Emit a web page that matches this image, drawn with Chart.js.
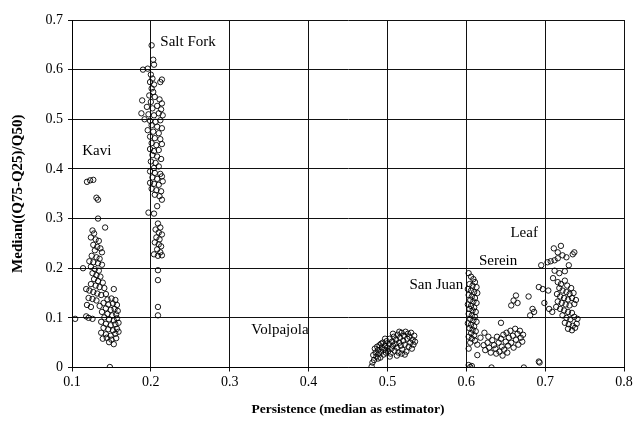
<!doctype html>
<html lang="en">
<head>
  <meta charset="utf-8">
  <title>Persistence vs spread</title>
  <script src="https://cdn.jsdelivr.net/npm/chart.js"></script>
  <style>
    html, body { margin: 0; padding: 0; background: #fff; }
    #wrap { width: 636px; height: 432px; }
  </style>
</head>
<body>
<div id="wrap"><canvas id="myChart" width="636" height="432"></canvas></div>

<script>
// Points per catchment: [persistence, median((Q75-Q25)/Q50)]
const kavi = [
  [0.119,0.374],[0.123,0.377],[0.127,0.378],[0.131,0.342],[0.133,0.338],[0.133,0.300],[0.142,0.282],
  [0.126,0.276],[0.128,0.270],[0.124,0.262],[0.130,0.258],[0.134,0.255],[0.127,0.247],[0.132,0.243],
  [0.136,0.240],[0.129,0.236],[0.138,0.232],[0.125,0.225],[0.131,0.222],[0.135,0.219],[0.122,0.214],
  [0.127,0.212],[0.133,0.210],[0.138,0.207],[0.114,0.200],[0.124,0.203],[0.129,0.198],[0.134,0.195],
  [0.126,0.190],[0.131,0.186],[0.136,0.183],[0.128,0.178],[0.133,0.174],[0.139,0.171],[0.124,0.168],
  [0.130,0.165],[0.135,0.162],[0.141,0.160],[0.118,0.158],[0.122,0.155],[0.153,0.158],[0.127,0.152],
  [0.132,0.149],[0.137,0.146],[0.143,0.148],[0.121,0.140],[0.126,0.138],[0.131,0.135],[0.145,0.137],
  [0.150,0.139],[0.155,0.136],[0.140,0.130],[0.146,0.127],[0.152,0.129],[0.157,0.126],[0.119,0.126],
  [0.124,0.122],[0.135,0.124],[0.143,0.119],[0.149,0.116],[0.154,0.118],[0.158,0.114],[0.138,0.112],
  [0.145,0.108],[0.151,0.105],[0.156,0.107],[0.104,0.098],[0.118,0.103],[0.121,0.100],[0.126,0.098],
  [0.141,0.101],[0.147,0.097],[0.153,0.095],[0.157,0.099],[0.137,0.092],[0.143,0.088],[0.149,0.085],
  [0.155,0.087],[0.159,0.090],[0.140,0.080],[0.146,0.077],[0.152,0.075],[0.157,0.078],[0.137,0.070],
  [0.143,0.067],[0.149,0.064],[0.155,0.068],[0.159,0.072],[0.139,0.058],[0.144,0.060],[0.150,0.056],
  [0.156,0.059],[0.153,0.047],[0.147,0.051],[0.148,0.001]
];
const saltFork = [
  [0.201,0.649],[0.203,0.620],[0.204,0.610],[0.190,0.600],[0.196,0.602],[0.200,0.590],[0.202,0.582],
  [0.199,0.575],[0.204,0.570],[0.201,0.562],[0.203,0.555],[0.198,0.548],[0.205,0.545],[0.189,0.538],
  [0.200,0.535],[0.211,0.540],[0.214,0.532],[0.212,0.575],[0.214,0.580],[0.195,0.525],[0.202,0.522],
  [0.208,0.527],[0.213,0.520],[0.188,0.512],[0.197,0.510],[0.204,0.508],[0.210,0.512],[0.215,0.508],
  [0.192,0.500],[0.199,0.497],[0.206,0.495],[0.212,0.498],[0.201,0.488],[0.208,0.485],[0.214,0.482],
  [0.196,0.478],[0.203,0.475],[0.210,0.472],[0.199,0.465],[0.205,0.462],[0.212,0.460],[0.201,0.452],
  [0.207,0.448],[0.214,0.450],[0.199,0.440],[0.204,0.436],[0.210,0.438],[0.202,0.428],[0.208,0.425],
  [0.213,0.420],[0.200,0.415],[0.206,0.412],[0.204,0.402],[0.210,0.405],[0.199,0.395],[0.205,0.392],
  [0.212,0.390],[0.202,0.383],[0.208,0.380],[0.214,0.385],[0.199,0.372],[0.204,0.370],[0.210,0.368],
  [0.215,0.375],[0.201,0.360],[0.207,0.357],[0.213,0.355],[0.205,0.348],[0.211,0.345],[0.214,0.338],
  [0.208,0.325],[0.197,0.312],[0.204,0.310],[0.209,0.290],[0.212,0.282],[0.206,0.278],[0.210,0.272],
  [0.214,0.268],[0.207,0.262],[0.211,0.258],[0.205,0.252],[0.210,0.248],[0.213,0.244],[0.208,0.238],
  [0.212,0.232],[0.204,0.228],[0.209,0.225],[0.214,0.226],[0.209,0.196],[0.209,0.176],[0.209,0.122],
  [0.209,0.105]
];
const volpajola = [
  [0.480,0.002],[0.481,0.010],[0.483,0.015],[0.482,0.025],[0.485,0.030],[0.484,0.038],[0.487,0.042],
  [0.486,0.022],[0.489,0.028],[0.488,0.035],[0.490,0.045],[0.491,0.020],[0.492,0.032],[0.493,0.040],
  [0.494,0.050],[0.495,0.026],[0.496,0.036],[0.497,0.044],[0.498,0.030],[0.499,0.053],[0.500,0.040],
  [0.501,0.033],[0.502,0.047],[0.503,0.058],[0.504,0.028],[0.505,0.038],[0.506,0.052],[0.507,0.044],
  [0.508,0.062],[0.509,0.034],[0.510,0.048],[0.511,0.056],[0.512,0.040],[0.513,0.066],[0.514,0.030],
  [0.515,0.050],[0.516,0.060],[0.517,0.044],[0.518,0.070],[0.519,0.036],[0.520,0.054],[0.521,0.064],
  [0.522,0.046],[0.523,0.072],[0.524,0.032],[0.525,0.058],[0.526,0.068],[0.527,0.042],[0.528,0.062],
  [0.529,0.050],[0.530,0.070],[0.531,0.038],[0.532,0.056],[0.533,0.046],[0.534,0.064],[0.535,0.052],
  [0.512,0.024],[0.518,0.028],[0.522,0.026],[0.507,0.068],[0.515,0.072],[0.503,0.022],[0.497,0.058],
  [0.492,0.048],[0.488,0.018]
];
const sanJuan = [
  [0.603,0.190],[0.606,0.183],[0.609,0.178],[0.611,0.172],[0.604,0.168],[0.608,0.165],[0.613,0.162],
  [0.602,0.158],[0.606,0.155],[0.610,0.152],[0.614,0.150],[0.603,0.146],[0.607,0.143],[0.611,0.140],
  [0.605,0.136],[0.609,0.133],[0.613,0.130],[0.602,0.127],[0.606,0.124],[0.610,0.121],[0.604,0.118],
  [0.608,0.115],[0.612,0.112],[0.603,0.108],[0.607,0.105],[0.611,0.102],[0.605,0.098],[0.609,0.095],
  [0.613,0.092],[0.602,0.089],[0.606,0.086],[0.610,0.083],[0.604,0.079],[0.608,0.076],[0.612,0.073],
  [0.606,0.069],[0.610,0.065],[0.603,0.062],[0.607,0.058],[0.611,0.054],[0.605,0.050],[0.614,0.046],
  [0.603,0.038],[0.603,0.005],[0.605,0.001],[0.607,0.003]
];
const serein = [
  [0.618,0.060],[0.622,0.045],[0.624,0.035],[0.627,0.050],[0.629,0.040],[0.631,0.030],[0.633,0.055],
  [0.635,0.045],[0.637,0.038],[0.639,0.062],[0.641,0.050],[0.642,0.032],[0.644,0.058],[0.645,0.042],
  [0.647,0.066],[0.648,0.036],[0.650,0.052],[0.651,0.070],[0.653,0.044],[0.654,0.060],[0.656,0.074],
  [0.657,0.050],[0.659,0.064],[0.660,0.040],[0.662,0.078],[0.663,0.056],[0.665,0.068],[0.666,0.046],
  [0.668,0.074],[0.669,0.060],[0.671,0.052],[0.672,0.066],[0.638,0.028],[0.646,0.024],[0.652,0.030],
  [0.614,0.025],[0.632,0.000],[0.673,0.000],[0.693,0.010],[0.644,0.090],[0.657,0.125],[0.660,0.135],
  [0.663,0.145],[0.665,0.130],[0.679,0.143],[0.681,0.105],[0.684,0.118],[0.623,0.070],[0.628,0.062]
];
const leaf = [
  [0.711,0.240],[0.720,0.245],[0.716,0.232],[0.722,0.226],[0.727,0.222],[0.735,0.228],[0.737,0.232],
  [0.703,0.212],[0.707,0.214],[0.712,0.216],[0.716,0.220],[0.695,0.206],[0.730,0.206],[0.712,0.195],
  [0.718,0.190],[0.725,0.194],[0.710,0.180],[0.692,0.162],[0.697,0.158],[0.704,0.155],[0.716,0.172],
  [0.720,0.168],[0.725,0.175],[0.728,0.165],[0.733,0.160],[0.718,0.160],[0.722,0.155],[0.727,0.152],
  [0.731,0.148],[0.736,0.150],[0.715,0.148],[0.719,0.143],[0.724,0.140],[0.729,0.137],[0.734,0.140],
  [0.739,0.136],[0.716,0.133],[0.721,0.130],[0.726,0.127],[0.731,0.125],[0.737,0.128],[0.714,0.122],
  [0.719,0.118],[0.705,0.118],[0.709,0.112],[0.724,0.115],[0.729,0.112],[0.734,0.110],[0.722,0.105],
  [0.727,0.100],[0.732,0.097],[0.737,0.102],[0.741,0.098],[0.725,0.090],[0.730,0.087],[0.735,0.084],
  [0.740,0.088],[0.729,0.078],[0.734,0.075],[0.738,0.080],[0.692,0.012],[0.686,0.112],[0.699,0.130]
];

// catchment names and where they sit (data units, align)
const labelNames = ['Kavi', 'Salt Fork', 'Volpajola', 'San Juan', 'Serein', 'Leaf'];
const labelAt = [[0.113,0.436,'left'], [0.212,0.655,'left'], [0.400,0.075,'right'],
                 [0.596,0.166,'right'], [0.616,0.215,'left'], [0.656,0.270,'left']];

const xTicks = [0.1, 0.2, 0.3, 0.4, 0.5, 0.6, 0.7, 0.8];
const yTicks = [0, 0.1, 0.2, 0.3, 0.4, 0.5, 0.6, 0.7];

Chart.defaults.font.family = '"Liberation Serif", "Times New Roman", serif';
Chart.defaults.color = '#000';

const toPts = arr => arr.map(p => ({ x: p[0], y: p[1] }));
const allSets = [kavi, saltFork, volpajola, sanJuan, serein, leaf];

const siteLabels = {
  id: 'siteLabels',
  afterDatasetsDraw(chart) {
    const c = chart.ctx, xs = chart.scales.x, ys = chart.scales.y;
    c.save();
    c.font = '15px "Liberation Serif", serif';
    c.fillStyle = '#000';
    c.textBaseline = 'middle';
    labelNames.forEach((name, i) => {
      c.textAlign = labelAt[i][2];
      c.fillText(name, xs.getPixelForValue(labelAt[i][0]), ys.getPixelForValue(labelAt[i][1]));
    });
    c.restore();
  }
};

const ctx = document.getElementById('myChart').getContext('2d');
const myChart = new Chart(ctx, {
  type: 'scatter',
  data: {
    datasets: allSets.map((s, i) => ({
      label: labelNames[i],
      data: toPts(s),
      pointStyle: 'circle',
      pointRadius: 2.7,
      pointBorderWidth: 0.9,
      pointBorderColor: '#000',
      pointBackgroundColor: 'rgba(0,0,0,0)'
    }))
  },
  options: {
    responsive: false,
    animation: false,
    layout: { padding: { top: 20, right: 12, left: 5, bottom: 12 } },
    plugins: { legend: { display: false }, tooltip: { enabled: false } },
    scales: {
      x: {
        type: 'linear',
        min: 0.1, max: 0.8,
        afterBuildTicks: s => { s.ticks = xTicks.map(v => ({ value: v })); },
        afterFit: s => { s.height = 52.5; },
        ticks: { font: { size: 14 }, padding: 2, maxRotation: 0,
                 callback: v => v.toFixed(1) },
        grid: { color: '#111', lineWidth: 1, tickLength: 4 },
        border: { color: '#000', width: 1 },
        title: { display: true, text: 'Persistence (median as estimator)',
                 font: { size: 13.5, weight: 'bold' }, padding: { top: 4, bottom: 2 } }
      },
      y: {
        min: 0, max: 0.7,
        afterBuildTicks: s => { s.ticks = yTicks.map(v => ({ value: v })); },
        afterFit: s => { s.width = 67; },
        ticks: { font: { size: 14 }, padding: 5,
                 callback: v => v === 0 ? '0' : v.toFixed(1) },
        grid: { color: '#111', lineWidth: 1, tickLength: 4 },
        border: { color: '#000', width: 1 },
        title: { display: true, text: 'Median((Q75-Q25)/Q50)',
                 font: { size: 15, weight: 'bold' }, padding: { top: 4, bottom: 4 } }
      }
    }
  },
  plugins: [siteLabels]
});
</script>
</body>
</html>
